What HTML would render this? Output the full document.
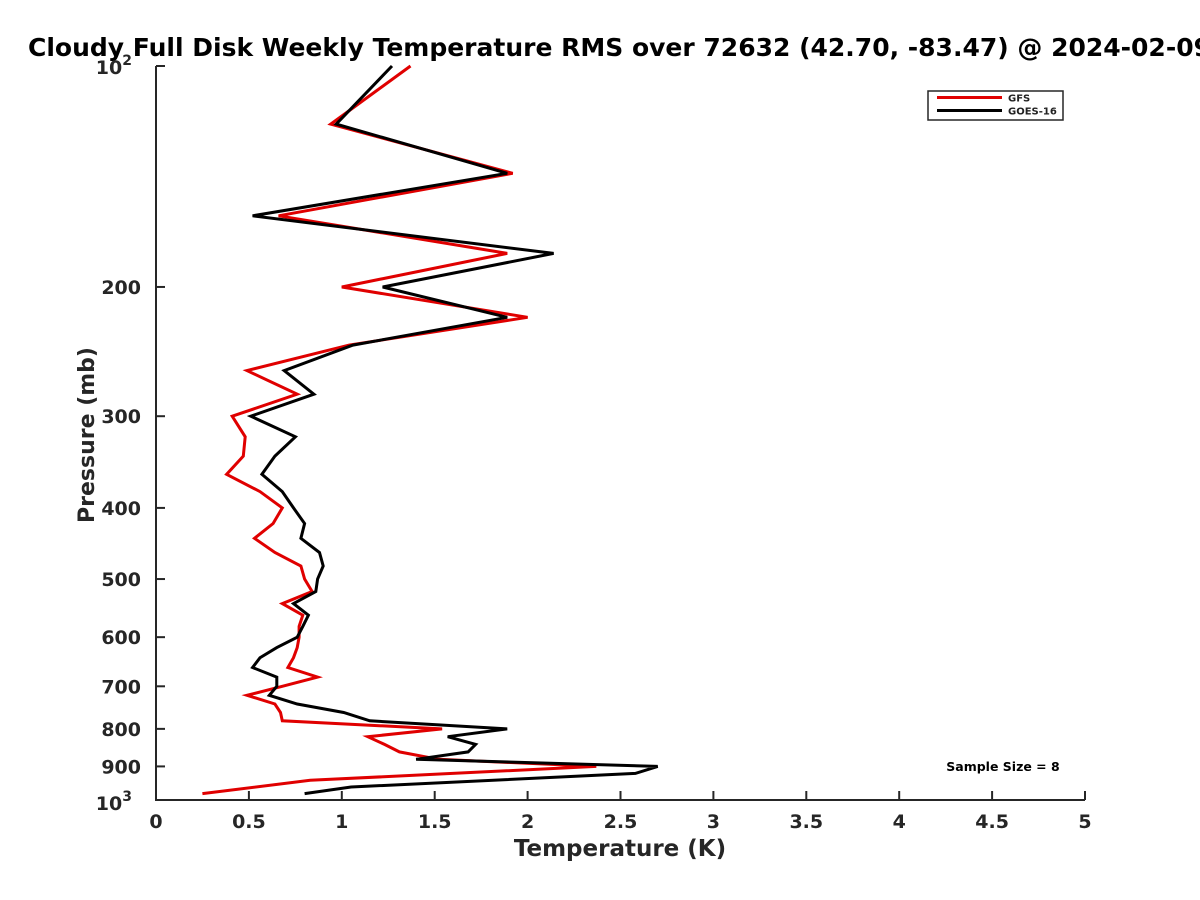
<!DOCTYPE html>
<html><head><meta charset="utf-8">
<style>
html,body{margin:0;padding:0;background:#fff;overflow:hidden;}
svg{display:block;font-family:"DejaVu Sans","Liberation Sans",sans-serif;font-weight:bold;}
</style></head>
<body>
<svg id="chart" width="1200" height="900" viewBox="0 0 1200 900">
<text x="28" y="56" font-size="25" fill="#000">Cloudy Full Disk Weekly Temperature RMS over 72632 (42.70, -83.47) @ 2024-02-09</text>
<g id="axes"></g>
<g id="series"></g>
<g>
<rect x="928" y="91" width="135" height="29" fill="#fff" stroke="#262626" stroke-width="1.5"/>
<line x1="937" y1="97.5" x2="1002" y2="97.5" stroke="#e00000" stroke-width="3"/>
<text x="1008" y="101.5" font-size="10" fill="#222">GFS</text>
<line x1="937" y1="110.5" x2="1002" y2="110.5" stroke="#000" stroke-width="3"/>
<text x="1008" y="114.5" font-size="10" fill="#222">GOES-16</text>
</g>
<text x="1003" y="771" font-size="12.5" text-anchor="middle" fill="#000">Sample Size = 8</text>
<text x="620" y="856" font-size="23" text-anchor="middle" fill="#262626">Temperature (K)</text>
<text transform="translate(94,435) rotate(-90)" font-size="22" text-anchor="middle" fill="#262626">Pressure (mb)</text>
</svg>
<script>
const xTicks = [0,0.5,1,1.5,2,2.5,3,3.5,4,4.5,5];
const yTicks = [100,200,300,400,500,600,700,800,900,1000];
const yTickLabels = ["10²","200","300","400","500","600","700","800","900","10³"];
const gfsPressure = [100,120,140,160,180,200,220,240,260,280,300,320,340,360,380,400,420,440,460,480,500,520,540,560,580,600,620,640,660,680,700,720,740,760,780,800,820,840,860,880,900,940,980];
const gfsTemp = [1.37,0.94,1.92,0.66,1.89,1.00,2.00,1.04,0.49,0.76,0.41,0.48,0.47,0.38,0.56,0.68,0.63,0.53,0.64,0.78,0.80,0.84,0.68,0.79,0.77,0.77,0.76,0.74,0.71,0.87,0.68,0.49,0.64,0.67,0.68,1.54,1.14,1.23,1.31,1.52,2.37,0.83,0.25];
const goesPressure = [100,120,140,160,180,200,220,240,260,280,300,320,340,360,380,400,420,440,460,480,500,520,540,560,580,600,620,640,660,680,700,720,740,760,780,800,820,840,860,880,900,920,960,980];
const goesTemp = [1.27,0.97,1.89,0.52,2.14,1.22,1.89,1.06,0.69,0.85,0.51,0.75,0.64,0.57,0.68,0.74,0.80,0.78,0.88,0.90,0.87,0.86,0.74,0.82,0.79,0.76,0.65,0.56,0.52,0.65,0.65,0.61,0.76,1.01,1.15,1.89,1.57,1.72,1.68,1.40,2.70,2.58,1.05,0.80];

const NS = "http://www.w3.org/2000/svg";
const X0 = 156, X1 = 1085, Y0 = 66, Y1 = 800;
function xScale(t){ return X0 + (t - 0) / 5 * (X1 - X0); }
function yScale(p){ return Y0 + (Math.log10(p) - 2) * (Y1 - Y0); }
function mk(tag, attrs){ const e = document.createElementNS(NS, tag); for (const k in attrs) e.setAttribute(k, attrs[k]); return e; }

const axes = document.getElementById('axes');
const axisPath = mk('path', {d:`M${X0},${Y0} V${Y1} H${X1}`, fill:'none', stroke:'#262626', 'stroke-width':2});


axes.appendChild(axisPath);

xTicks.forEach(t => {
  const x = xScale(t);
  const tk = mk('line', {x1:x, y1:Y1, x2:x, y2:Y1-9, stroke:'#262626', 'stroke-width':2});
  
  
  axes.appendChild(tk);
  const lb = mk('text', {x:x, y:Y1+28, 'font-size':19, 'text-anchor':'middle', fill:'#262626'});
  lb.textContent = String(t);
  
  
  axes.appendChild(lb);
});

yTicks.forEach((p, i) => {
  const y = yScale(p);
  const tk = mk('line', {x1:X0, y1:y, x2:X0+9, y2:y, stroke:'#262626', 'stroke-width':2});
  
  
  axes.appendChild(tk);
  const lb = mk('text', {x:X0-15, y:y+7, 'font-size':19, 'text-anchor':'end', fill:'#262626'});
  const s = yTickLabels[i];
  if (s === "10²" || s === "10³") {
    lb.setAttribute('x', X0-24);
    lb.textContent = "10";
    const sup = mk('tspan', {dy:-9, 'font-size':14});
    sup.textContent = s === "10²" ? "2" : "3";
    lb.appendChild(sup);
    if (s === "10³") lb.setAttribute('y', y+10);
    if (s === "10²") lb.setAttribute('y', y+8);
  } else {
    lb.textContent = s;
  }
  
  
  axes.appendChild(lb);
});

const series = document.getElementById('series');
function drawLine(pr, tv, color, name){
  const pts = pr.map((p, i) => xScale(tv[i]).toFixed(1) + ',' + yScale(p).toFixed(1)).join(' ');
  const pl = mk('polyline', {points:pts, fill:'none', stroke:color, 'stroke-width':3, 'stroke-linejoin':'miter'});
  
  
  series.appendChild(pl);
}
drawLine(gfsPressure, gfsTemp, '#e00000', 'gfs-line');
drawLine(goesPressure, goesTemp, '#000000', 'goes16-line');
</script>
</body></html>
